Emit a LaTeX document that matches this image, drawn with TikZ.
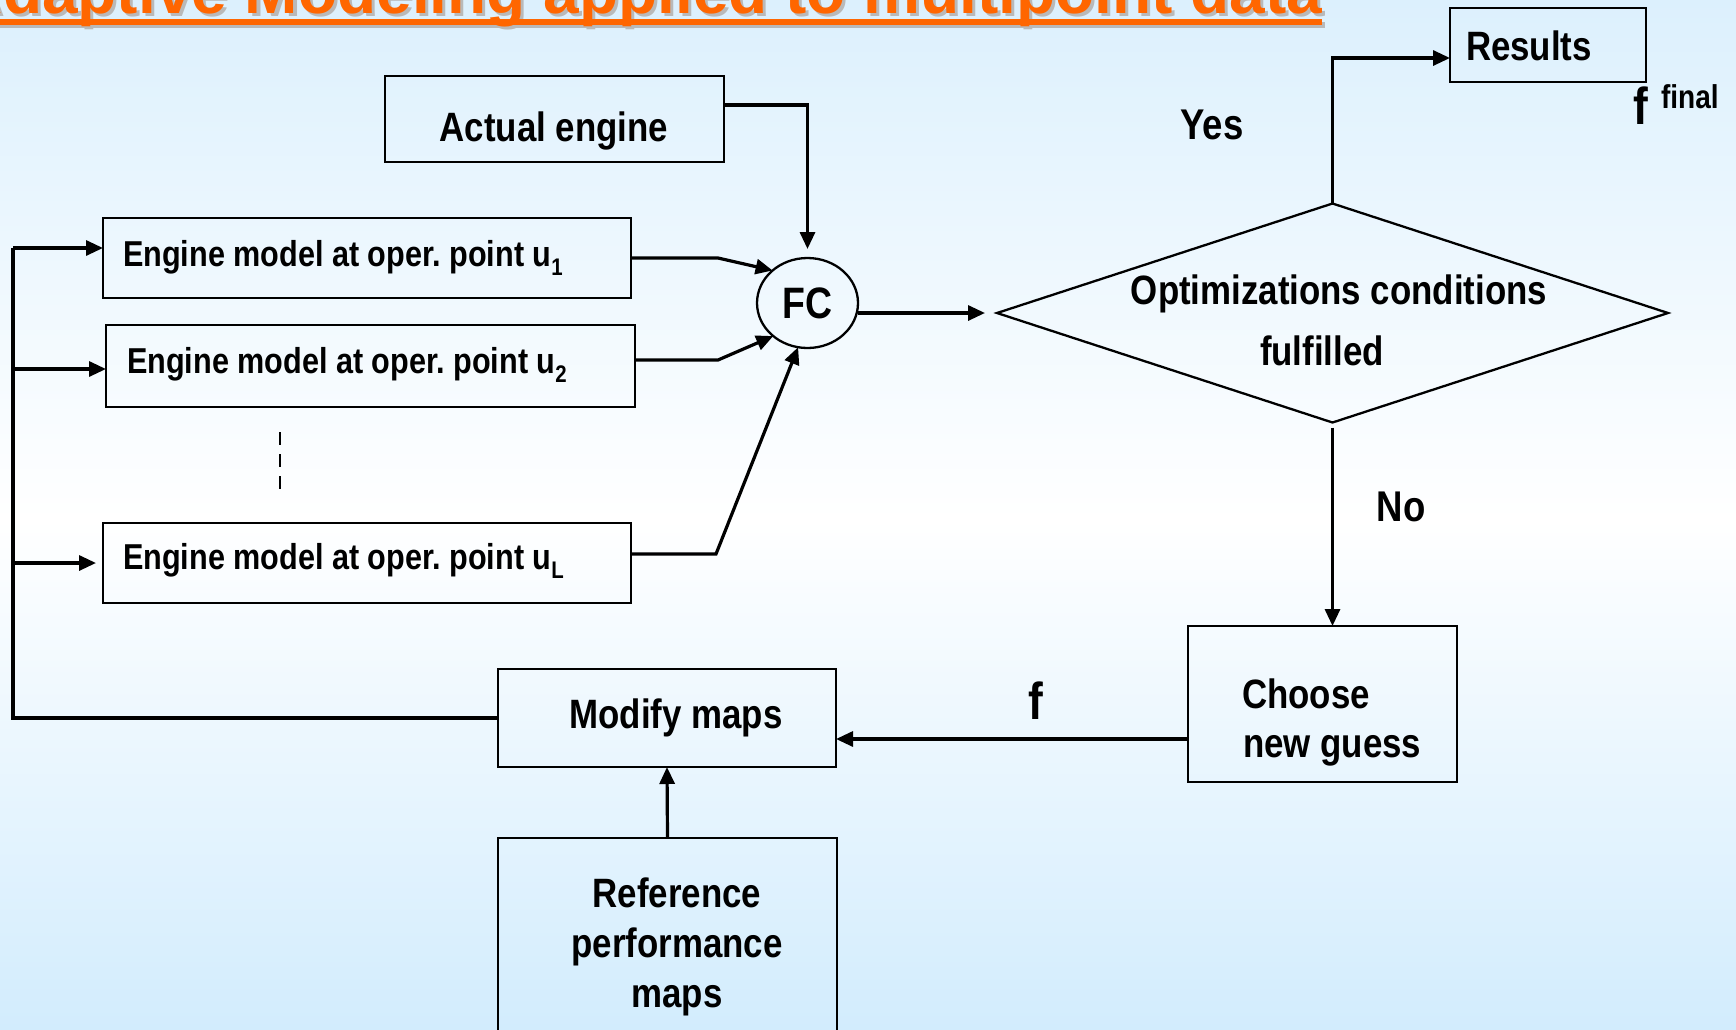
\documentclass[tikz,border=0pt]{standalone}
\usepackage{fontspec}
\usetikzlibrary{arrows.meta,shapes.geometric}
\newfontfamily\diagfont{Liberation Sans}[FakeStretch=0.85]
\newfontfamily\titlefont{Liberation Sans}
\frenchspacing
\newcommand\fsbig{\fontsize{41}{49}\selectfont}
\newcommand\fsmid{\fontsize{36}{43}\selectfont}
\newcommand\fssub{\fontsize{24}{26}\selectfont}
\newcommand\subidx[1]{\raisebox{-9pt}{\fssub #1}}
\definecolor{bgtop}{RGB}{220,240,253}
\definecolor{bgbot}{RGB}{210,236,253}
\definecolor{titleorange}{RGB}{255,102,0}
\definecolor{titleshadow}{RGB}{185,185,185}
\tikzset{
  x=1pt, y=-1pt,
  every node/.style={inner sep=0pt, outer sep=0pt},
  txt/.style={font=\diagfont\bfseries\fsbig},
  engtxt/.style={font=\diagfont\bfseries\fsmid, anchor=base west},
  box/.style={draw, line width=2.3pt, rectangle},
  conn/.style={line width=3.2pt, -{Triangle[length=17pt,width=15pt]}},
  plain/.style={line width=3.2pt},
}
\begin{document}
\begin{tikzpicture}
\useasboundingbox (0,0) rectangle (1736,1029);
\clip (0,0) rectangle (1736,1029);
% background
\shade[top color=bgtop, bottom color=white] (0,0) rectangle (1736,520);
\shade[top color=white, bottom color=bgbot] (0,519) rectangle (1736,1029);

% title with shadow and underline
\fill[titleshadow] (-40,22) rectangle (1325,28);
\node[anchor=base west, text=titleshadow, font=\titlefont\bfseries\fontsize{64}{70}\selectfont] (titleshd) at (-40,16) {Adaptive Modeling applied to multipoint data};
\fill[titleorange] (-43,19) rectangle (1322,25);
\node[anchor=base west, text=titleorange, font=\titlefont\bfseries\fontsize{64}{70}\selectfont] (title) at (-43,13) {Adaptive Modeling applied to multipoint data};

% blocks
\node[box, minimum width=339pt, minimum height=86pt] (actual) at (554.5,119) {};
\node[box, minimum width=528pt, minimum height=80pt] (m1) at (367,258) {};
\node[box, minimum width=529pt, minimum height=82pt] (m2) at (370.5,366) {};
\node[box, minimum width=528pt, minimum height=80pt] (mL) at (367,563) {};
\node[draw, ellipse, line width=2.3pt, minimum width=101pt, minimum height=90pt, font=\diagfont\bfseries\fontsize{44}{50}\selectfont] (fc) at (807.5,303) {FC};
\node[draw, diamond, line width=2.3pt, minimum width=671pt, minimum height=219pt] (cond) at (1332.5,313) {};
\node[box, minimum width=338pt, minimum height=98pt] (modify) at (667,718) {};
\node[box, minimum width=339pt, minimum height=222pt] (ref) at (667.5,949) {};
\node[box, minimum width=269pt, minimum height=156pt] (choose) at (1322.5,704) {};
\node[box, minimum width=196pt, minimum height=74pt] (results) at (1548,45) {};

% block texts
\node[txt, anchor=base] (actualtxt) at (554,141) {Actual engine};
\node[engtxt] (m1txt) at (123,266) {Engine model at oper. point u\subidx{1}};
\node[engtxt] (m2txt) at (127,373) {Engine model at oper. point u\subidx{2}};
\node[engtxt] (mLtxt) at (123,569) {Engine model at oper. point u\subidx{L}};
\node[txt, anchor=base] (condtxta) at (1339,304) {Optimizations conditions};
\node[txt, anchor=base] (condtxtb) at (1322,365) {fulfilled};
\node[txt, anchor=base] (modifytxt) at (676,728) {Modify maps};
\node[txt, anchor=base] (reftxta) at (677,907) {Reference};
\node[txt, anchor=base] (reftxtb) at (677,957) {performance};
\node[txt, anchor=base] (reftxtc) at (677,1007) {maps};
\node[txt, anchor=base west] (choosetxta) at (1242,708) {Choose};
\node[txt, anchor=base west] (choosetxtb) at (1243,757) {new guess};
\node[txt, anchor=base west] (resultstxt) at (1466,60) {Results};

% labels
\node[font=\diagfont\bfseries\fontsize{52}{56}\selectfont, anchor=base west] (ffin) at (1633,124) {f};
\node[font=\diagfont\bfseries\fontsize{33}{36}\selectfont, anchor=base west] (finaltxt) at (1661,108) {final};
\node[font=\diagfont\bfseries\fontsize{43}{48}\selectfont, anchor=base] (yes) at (1212,139) {Yes};
\node[font=\diagfont\bfseries\fontsize{43}{48}\selectfont, anchor=base] (no) at (1401,521) {No};
\node[font=\diagfont\bfseries\fontsize{52}{56}\selectfont, anchor=base] (fguess) at (1036,719) {f};

% elided models
\draw[line width=2.8pt, dash pattern=on 13pt off 9pt] (280,432) -- (280,492);

% connectors into FC
\draw[conn, shorten >=9pt] ([yshift=14pt]actual.east) -| (fc.north);
\draw[conn] (m1.east) -- ++(87,0) -- (fc.137);
\draw[conn] ([yshift=6pt]m2.east) -- ++(83,0) -- (fc.224);
\draw[conn] ([yshift=9pt]mL.east) -- ++(85,0) -- (fc.258);
% FC to decision
\draw[conn, shorten >=12pt] (fc.east |- cond.west) -- (cond.west);
% decision outcomes
\draw[conn] (cond.north) |- ([yshift=-13pt]results.west);
\draw[conn] ([yshift=-5pt]cond.south) -- (cond.south |- choose.north);
% new guess back to the maps
\draw[conn] ([yshift=-35pt]choose.west) -- ([yshift=-35pt]choose.west -| modify.east);
\draw[conn] (ref.north) -- (modify.south);
% feedback bus to the engine models
\coordinate (busbot) at (13,718);
\coordinate (bustop) at (13,248);
\draw[plain] (modify.west) -- (busbot) -- (bustop);
\draw[conn] (bustop) -- (bustop -| m1.west);
\draw[conn] ([yshift=-3pt]busbot |- m2.west) -- ([yshift=-3pt]m2.west);
\draw[conn, shorten >=7pt] (busbot |- mL.west) -- (mL.west);
\end{tikzpicture}
\end{document}
